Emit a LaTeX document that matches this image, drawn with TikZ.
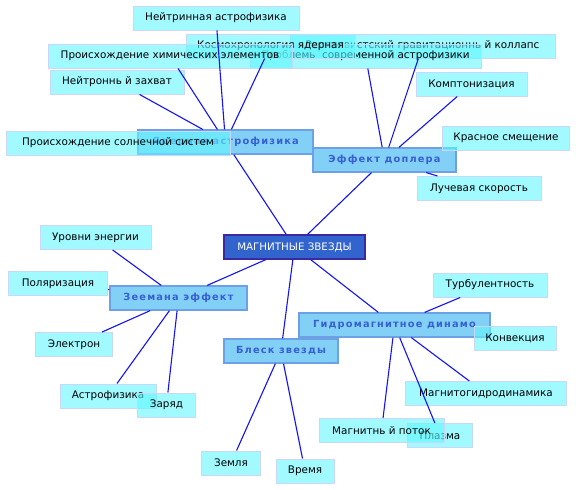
\documentclass[tikz,border=0pt]{standalone}
\usepackage{fontspec}
\setmainfont{DejaVu Sans}
\newfontfamily\topicfont[LetterSpace=12]{DejaVu Sans}
\definecolor{leaffill}{RGB}{97,247,255}
\definecolor{leafdraw}{RGB}{200,215,250}
\definecolor{topicfill}{RGB}{130,208,245}
\definecolor{topicdraw}{RGB}{110,160,230}
\definecolor{topictext}{RGB}{55,95,210}
\definecolor{rootfill}{RGB}{50,100,205}
\definecolor{rootdraw}{RGB}{60,40,160}
\definecolor{edgeblue}{RGB}{20,20,245}
\begin{document}
\begin{tikzpicture}[x=1pt,y=-1pt,
  leaf/.style={draw=leafdraw, line width=1pt, fill=leaffill, fill opacity=0.6, text opacity=1,
    inner sep=0pt, minimum height=24pt, text=black, font=\fontsize{10.4}{12}\selectfont},
  topic/.style={draw=topicdraw, line width=1.2pt, fill=topicfill,
    inner sep=0pt, minimum height=24pt, text=topictext, font=\topicfont\bfseries\fontsize{9.8}{11}\selectfont},
  root/.style={draw=rootdraw, line width=1.4pt, fill=rootfill,
    inner sep=0pt, minimum height=24pt, text=white, font=\fontsize{10.3}{12}\selectfont},
  edge/.style={draw=edgeblue, line width=1.1pt}]
\useasboundingbox (0,0) rectangle (576,490);
\fill[white] (0,0) rectangle (576,490);
% root and topics
\node[root, minimum width=141pt] (root) at (294.5,247) {МАГНИТНЫЕ ЗВЕЗДЫ};
\node[topic, minimum width=175pt] (nuclear) at (225.5,142) {Ядерная астрофизика};
\node[topic, minimum width=143pt] (doppler) at (384.5,160) {Эффект доплера};
\node[topic, minimum width=137pt] (zeeman) at (178.5,298) {Зеемана эффект};
\node[topic, minimum width=114pt] (bright) at (281,351) {Блеск звезды};
\node[topic, minimum width=191pt] (dynamo) at (394.5,325) {Гидромагнитное динамо};
% leaves
\node[leaf, minimum width=166pt] (neutrino) at (216,18) {Нейтринная астрофизика};
\node[leaf, minimum width=265pt] (relat) at (422.5,46) {Релятивистский гравитационнь й коллапс};
\node[leaf, minimum width=231pt] (probl) at (365.5,56) {Проблемь\ \ современной астрофизики};
\node[leaf, minimum width=169pt] (kosmo) at (270.5,46) {Космохронология ядерная};
\node[leaf, minimum width=244pt] (chem) at (170,56) {Происхождение химических элементов};
\node[leaf, minimum width=134pt] (neutron) at (117,82) {Нейтроннь й захват};
\node[leaf, minimum width=224pt] (solar) at (118,143) {Происхождение солнечной систем};
\node[leaf, minimum width=111pt] (kompt) at (471.5,84) {Комптонизация};
\node[leaf, minimum width=127pt] (redshift) at (506,138) {Красное смещение};
\node[leaf, minimum width=124pt] (radial) at (479,188.5) {Лучевая скорость};
\node[leaf, minimum width=111pt] (levels) at (95.5,237.5) {Уровни энергии};
\node[leaf, minimum width=99pt] (polar) at (58,283.5) {Поляризация};
\node[leaf, minimum width=77pt] (electron) at (74,344.5) {Электрон};
\node[leaf, minimum width=96pt] (astro) at (108,396) {Астрофизика};
\node[leaf, minimum width=58pt] (charge) at (166.5,405) {Заряд};
\node[leaf, minimum width=59pt] (earth) at (231,463) {Земля};
\node[leaf, minimum width=58pt] (time) at (305,471) {Время};
\node[leaf, minimum width=114pt] (turb) at (490,285) {Турбулентность};
\node[leaf, minimum width=82pt] (convect) at (515,338) {Конвекция};
\node[leaf, minimum width=161pt] (mhd) at (486,393.5) {Магнитогидродинамика};
\node[leaf, minimum width=65pt] (plasma) at (440,435.5) {Плазма};
\node[leaf, minimum width=125pt] (flux) at (381.5,430.5) {Магнитнь й поток};
% edges
\draw[edge] (root) -- (nuclear);
\draw[edge] (root) -- (doppler);
\draw[edge] (root) -- (zeeman);
\draw[edge] (root) -- (bright);
\draw[edge] (root) -- (dynamo);
\draw[edge] (neutrino) -- (nuclear);
\draw[edge] (chem) -- (nuclear);
\draw[edge] (neutron) -- (nuclear);
\draw[edge] (kosmo) -- (nuclear);
\draw[edge] (relat) -- (doppler);
\draw[edge] (probl) -- (doppler);
\draw[edge] (kompt) -- (doppler);
\draw[edge] (radial) -- (doppler);
\draw[edge] (levels) -- (zeeman);
\draw[edge] (polar) -- (zeeman);
\draw[edge] (electron) -- (zeeman);
\draw[edge] (astro) -- (zeeman);
\draw[edge] (charge) -- (zeeman);
\draw[edge] (earth) -- (bright);
\draw[edge] (time) -- (bright);
\draw[edge] (turb) -- (dynamo);
\draw[edge] (mhd) -- (dynamo);
\draw[edge] (flux) -- (dynamo);
\draw[edge] (plasma) -- (dynamo);
\end{tikzpicture}
\end{document}
